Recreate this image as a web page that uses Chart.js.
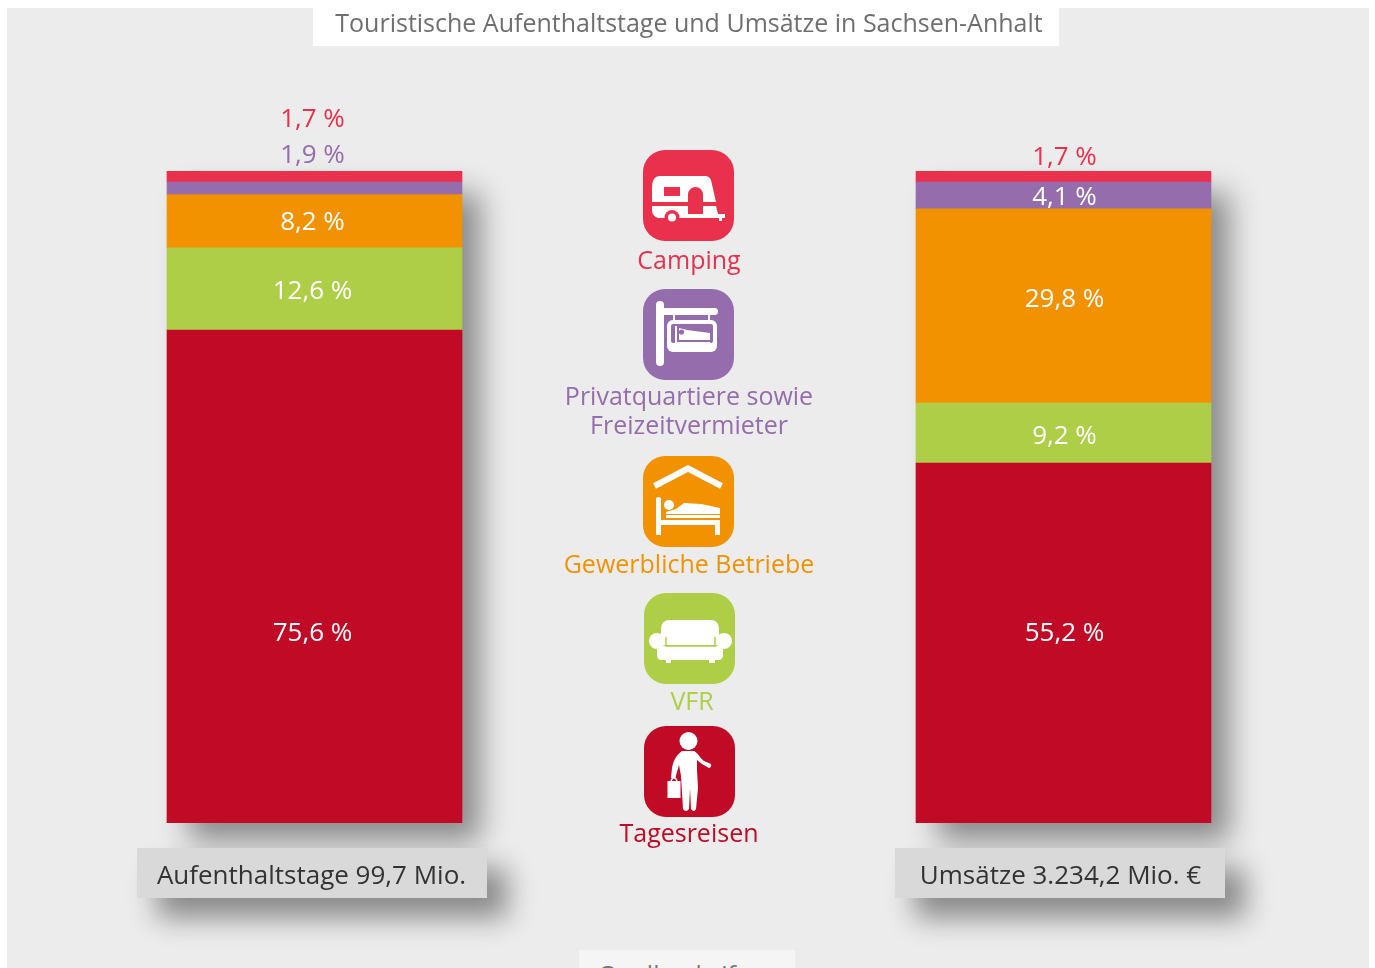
<!DOCTYPE html>
<html lang="de">
<head>
<meta charset="utf-8">
<title>Touristische Aufenthaltstage und Umsätze in Sachsen-Anhalt</title>
<script src="https://cdn.jsdelivr.net/npm/chart.js@4"></script>
<style>
    html, body { margin: 0; padding: 0; background: #fff; overflow: hidden; }
    body { width: 1375px; height: 968px; position: relative; font-family: "Open Sans", sans-serif; }
    .box { position: absolute; }
    #panel { left: 7px; top: 8px; width: 1362px; height: 960px; background: #ececec; }
    #titleBox { left: 313px; top: 0; width: 746px; height: 46px; background: #fff; }
    #sourceBox { left: 579px; top: 950px; width: 216px; height: 18px; background: #f5f5f5; overflow: hidden; }
    #sourceBox span { position: absolute; left: 19px; top: 7px; font-size: 25px; color: #777; white-space: nowrap; }
    #chart { position: absolute; left: 0; top: 0; }
    .tile { position: absolute; width: 91px; height: 91px; }
    .name { position: absolute; width: 300px; text-align: center; font-size: 25px; line-height: 29px; white-space: pre-line; }
</style>
</head>
<body>
<div class="box" id="panel"></div>
<div class="box" id="titleBox"></div>
<div class="box" id="sourceBox"><span>Quelle: dwif</span></div>
<canvas id="chart" width="1375" height="968"></canvas>
<div id="legend"></div>

<script>
var chartTitle = 'Touristische Aufenthaltstage und Umsätze in Sachsen-Anhalt';
var categories = ['Aufenthaltstage 99,7 Mio.', '', 'Umsätze 3.234,2 Mio. €'];

// bottom of the stack first
var tagesreisen = [75.6, null, 55.2];
var vfr = [12.6, null, 9.2];
var gewerblich = [8.2, null, 29.8];
var privat = [1.9, null, 4.1];
var camping = [1.7, null, 1.7];

var seriesNames = ['Tagesreisen', 'VFR', 'Gewerbliche Betriebe', 'Privatquartiere sowie\nFreizeitvermieter', 'Camping'];
var seriesColors = ['#c10a25', '#aece47', '#f39200', '#966dac', '#e9314e'];

// how far each value label sits from the middle of its segment, in px
var labelShifts = [[55, null, -11], [1, null, 1], [-1, null, -8], [-35, null, 0], [-59, null, -21]];
// labels that do not fit in the bar take the series colour
var labelOutside = [[false, null, false], [false, null, false], [false, null, false], [true, null, false], [true, null, true]];
var labelNudgeX = [-2, 0, 1];

var axisBoxWidths = [350, 0, 330];
var axisBoxNudgeX = [-2.5, 0, -3.5];

function formatValue(v) {
    return v.toFixed(1).replace('.', ',') + ' %';
}

function setShadow(ctx) {
    ctx.shadowColor = 'rgba(0, 0, 0, 0.42)';
    ctx.shadowBlur = 28;
    ctx.shadowOffsetX = 20;
    ctx.shadowOffsetY = 20;
}

// shadow under each bar and the grey boxes behind the axis labels
var backdropPlugin = {
    id: 'backdrop',
    beforeDraw: function(chart) {
        var ctx = chart.ctx;
        var x = chart.scales.x;
        var y = chart.scales.y;
        ctx.save();
        setShadow(ctx);
        ctx.fillStyle = '#c10a25';
        categories.forEach(function(name, i) {
            if (!name) return;
            var bar = chart.getDatasetMeta(0).data[i];
            ctx.fillRect(bar.x - bar.width / 2 + 2, y.getPixelForValue(100) + 2, bar.width - 4, y.getPixelForValue(0) - y.getPixelForValue(100) - 4);
        });
        ctx.fillStyle = '#d9d9d9';
        categories.forEach(function(name, i) {
            if (!name) return;
            var cx = x.getPixelForTick(i) + axisBoxNudgeX[i];
            ctx.fillRect(cx - axisBoxWidths[i] / 2, chart.chartArea.bottom + 25, axisBoxWidths[i], 50);
        });
        ctx.restore();
    }
};

var valueLabelPlugin = {
    id: 'valueLabels',
    afterDatasetsDraw: function(chart) {
        var ctx = chart.ctx;
        ctx.save();
        ctx.font = '400 26px "Open Sans"';
        ctx.textAlign = 'center';
        ctx.textBaseline = 'middle';
        chart.data.datasets.forEach(function(dataset, d) {
            chart.getDatasetMeta(d).data.forEach(function(bar, i) {
                var v = dataset.data[i];
                if (v === null) return;
                var mid = (bar.y + bar.base) / 2;
                ctx.fillStyle = labelOutside[d][i] ? seriesColors[d] : '#fff';
                ctx.fillText(formatValue(v), bar.x + labelNudgeX[i], mid + labelShifts[d][i] + 2);
            });
        });
        ctx.restore();
    }
};

new Chart(document.getElementById('chart'), {
    type: 'bar',
    data: {
        labels: categories,
        datasets: seriesNames.map(function(name, i) {
            return {
                label: name.replace('\n', ' '),
                data: [tagesreisen, vfr, gewerblich, privat, camping][i],
                backgroundColor: seriesColors[i],
                barThickness: 295,
                borderWidth: 0
            };
        })
    },
    options: {
        responsive: false,
        animation: false,
        layout: { padding: { left: 127.25, right: 124.25, top: 0, bottom: 0 } },
        plugins: {
            legend: { display: false },
            tooltip: { enabled: false },
            title: {
                display: true,
                text: chartTitle,
                color: '#6f6f6f',
                font: { family: '"Open Sans"', size: 25, weight: 'normal', lineHeight: 1.2 },
                padding: { top: 10, bottom: 131 }
            }
        },
        scales: {
            x: {
                stacked: true,
                grid: { display: false },
                border: { display: false },
                afterFit: function(scale) { scale.height = 145; },
                ticks: {
                    color: '#333',
                    font: { family: '"Open Sans"', size: 26, lineHeight: 1.2 },
                    padding: 30,
                    labelOffset: -3,
                    maxRotation: 0,
                    autoSkip: false
                }
            },
            y: { stacked: true, display: false, min: 0, max: 100 }
        }
    },
    plugins: [backdropPlugin, valueLabelPlugin]
});

// legend in the middle of the chart
var legendIcons = [
    '<circle cx="44.5" cy="15" r="9"/><path d="M38 25C32 29 29 36 28 42L27 52 31 53 35 39 37 50 39 83Q42 87 45 83L46 62 47 83Q50 87 52 83L54 62 53 44 53 34 58 38 65 42Q68 41 67 38L60 35C56 32 54 27 50 25Z"/><path d="M23.5 55H36.5V72H23.5Z"/><path d="M27 55Q30 48 33 55" fill="none" stroke="#fff" stroke-width="1.5"/>',
    '<path d="M17 52V36Q17 27 26 27H66Q75 27 75 36V52Z"/><circle cx="13" cy="48" r="8"/><circle cx="80" cy="48" r="8"/><path d="M13 53H79V62Q79 67 74 67H18Q13 67 13 62Z"/><path d="M22 67H27V70H22ZM65 67H71V70H65Z"/><path d="M22 44V53H71V44" fill="none" stroke="#aece47" stroke-width="1.5"/>',
    '<path d="M11.5 30L45 12.5 78.5 30" fill="none" stroke="#fff" stroke-width="6"/><path d="M13 43Q13 41 15.5 41T18 43V64H77V79H72V69H18V79H13Z"/><circle cx="26" cy="49" r="5"/><path d="M23 56L33 53 41 47 58 48 77 52V58H23ZM23 59H77V62H23Z"/>',
    '<rect x="13" y="12" width="8" height="65" rx="4"/><rect x="13" y="19" width="62" height="7" rx="3.5"/><path d="M30 26H32V33H30ZM65 26H67V33H65Z"/><rect x="24" y="31" width="50" height="32" rx="6"/><rect x="28" y="35" width="42" height="19" rx="2" fill="#966dac"/><path d="M32 37H34V53H67V56H32ZM36 51V39L44 41 67 44V51Z"/><circle cx="38.5" cy="43" r="2.6" fill="#966dac"/>',
    '<path d="M9 52V38Q9 26 17 26H62Q66 26 68 30L73 52ZM9 56H73L75 64H82V68H79V71H76V68H15Q9 66 9 60Z"/><path d="M21 37H37V46H21ZM45 64V44.5A7.5 7.5 0 0 1 60 44.5V64H45Z" fill="#e9314e"/><circle cx="29" cy="67.5" r="7.5" fill="#e9314e"/><circle cx="29" cy="67.5" r="4"/>'
];
var iconLeft = [644, 644, 643, 643, 643];
var iconTop = [726, 593, 456, 289, 150];
var nameTop = [818, 686, 549, 381, 245];
var nameCenter = [689, 692, 689, 689, 689];

var legend = document.getElementById('legend');
seriesNames.forEach(function(name, i) {
    var tile = '<svg class="tile" viewBox="0 0 91 91" fill="#fff" style="left:' + iconLeft[i] + 'px;top:' + iconTop[i] + 'px">' +
        '<rect width="91" height="91" rx="22" fill="' + seriesColors[i] + '"/>' + legendIcons[i] + '</svg>';
    var text = '<div class="name" style="left:' + (nameCenter[i] - 150) + 'px;top:' + nameTop[i] + 'px;color:' + seriesColors[i] + '">' + name + '</div>';
    legend.insertAdjacentHTML('beforeend', tile + text);
});
</script>
</body>
</html>
